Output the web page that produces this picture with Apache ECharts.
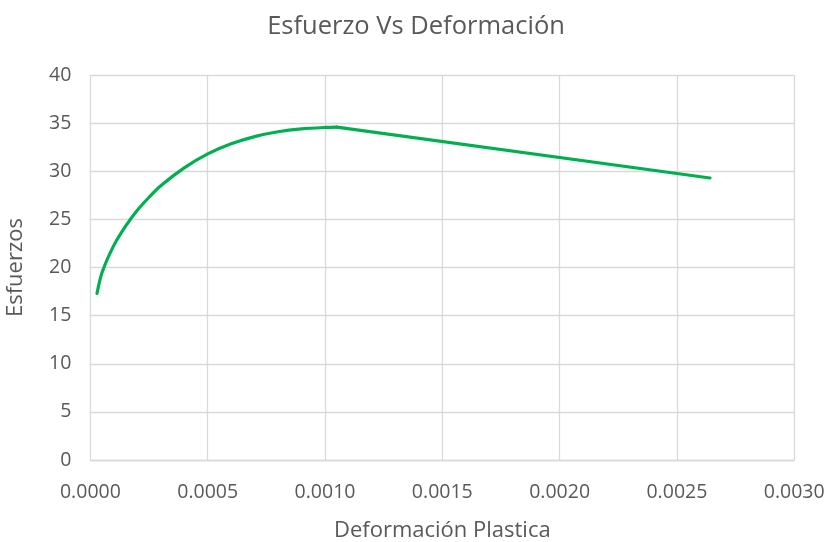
<!DOCTYPE html>
<html>
<head>
<meta charset="utf-8">
<script src="https://cdn.jsdelivr.net/npm/echarts@6/dist/echarts.min.js"></script>
<style>
  html, body { margin: 0; padding: 0; background: #fff; }
  #chart { width: 832px; height: 542px; }
</style>
</head>
<body>
<div id="chart"></div>
<script>
// Hardening branch: plastic strain (x) and stress (y) up to the peak
const deformacionEndurecimiento = [0.0000281, 0.00005, 0.0001, 0.00015, 0.0002, 0.00025, 0.0003, 0.0004, 0.0005, 0.0006, 0.0007, 0.0008, 0.0009, 0.001, 0.00105];
const esfuerzosEndurecimiento   = [17.3, 19.5, 22.3, 24.3, 25.95, 27.3, 28.5, 30.35, 31.8, 32.85, 33.6, 34.1, 34.4, 34.55, 34.58];
// Softening branch: straight segment from the peak to the last sample
const deformacionAblandamiento = [0.00105, 0.002641];
const esfuerzosAblandamiento   = [34.58, 29.3];

const xTicks = { min: 0, max: 0.003, interval: 0.0005 };
const yTicks = { min: 0, max: 40, interval: 5 };

const FONT = '"Open Sans", "Noto Sans", sans-serif';
const TEXT = '#595959';
const GRIDLINE = '#D9D9D9';
const GREEN = '#00B050';

const toPoints = (xs, ys) => xs.map((x, i) => [x, ys[i]]);

const chart = echarts.init(document.getElementById('chart'), null, { renderer: 'canvas' });
chart.setOption({
  animation: false,
  backgroundColor: '#fff',
  title: {
    text: 'Esfuerzo Vs Deformación',
    left: 'center',
    top: 9,
    textStyle: { color: TEXT, fontFamily: FONT, fontSize: 25.5, fontWeight: 'normal' }
  },
  grid: { left: 90.4, right: 37.8, top: 75, bottom: 82, containLabel: false, outerBoundsMode: 'none' },
  xAxis: {
    type: 'value',
    min: xTicks.min, max: xTicks.max, interval: xTicks.interval,
    name: 'Deformación Plastica',
    nameLocation: 'middle',
    nameGap: 60,
    nameTextStyle: { color: TEXT, fontFamily: FONT, fontSize: 22 },
    axisLine: { show: true, lineStyle: { color: GRIDLINE, width: 1.3 } },
    axisTick: { show: false },
    axisLabel: { color: TEXT, fontFamily: FONT, fontSize: 19.5, margin: 22,
                 formatter: v => v.toFixed(4) },
    splitLine: { show: true, lineStyle: { color: GRIDLINE, width: 1.3 } }
  },
  yAxis: {
    type: 'value',
    min: yTicks.min, max: yTicks.max, interval: yTicks.interval,
    name: 'Esfuerzos',
    nameLocation: 'middle',
    nameGap: 64,
    nameTextStyle: { color: TEXT, fontFamily: FONT, fontSize: 22 },
    axisLine: { show: false },
    axisTick: { show: false },
    axisLabel: { color: TEXT, fontFamily: FONT, fontSize: 19.5, margin: 19 },
    splitLine: { show: true, lineStyle: { color: GRIDLINE, width: 1.3 } }
  },
  series: [{
    type: 'line',
    data: toPoints(deformacionEndurecimiento, esfuerzosEndurecimiento),
    showSymbol: false,
    smooth: 0.3,
    lineStyle: { color: GREEN, width: 3.2, cap: 'round', join: 'round' },
    itemStyle: { color: GREEN }
  }, {
    type: 'line',
    data: toPoints(deformacionAblandamiento, esfuerzosAblandamiento),
    showSymbol: false,
    smooth: false,
    lineStyle: { color: GREEN, width: 3.2, cap: 'round' },
    itemStyle: { color: GREEN }
  }]
});
</script>
</body>
</html>
